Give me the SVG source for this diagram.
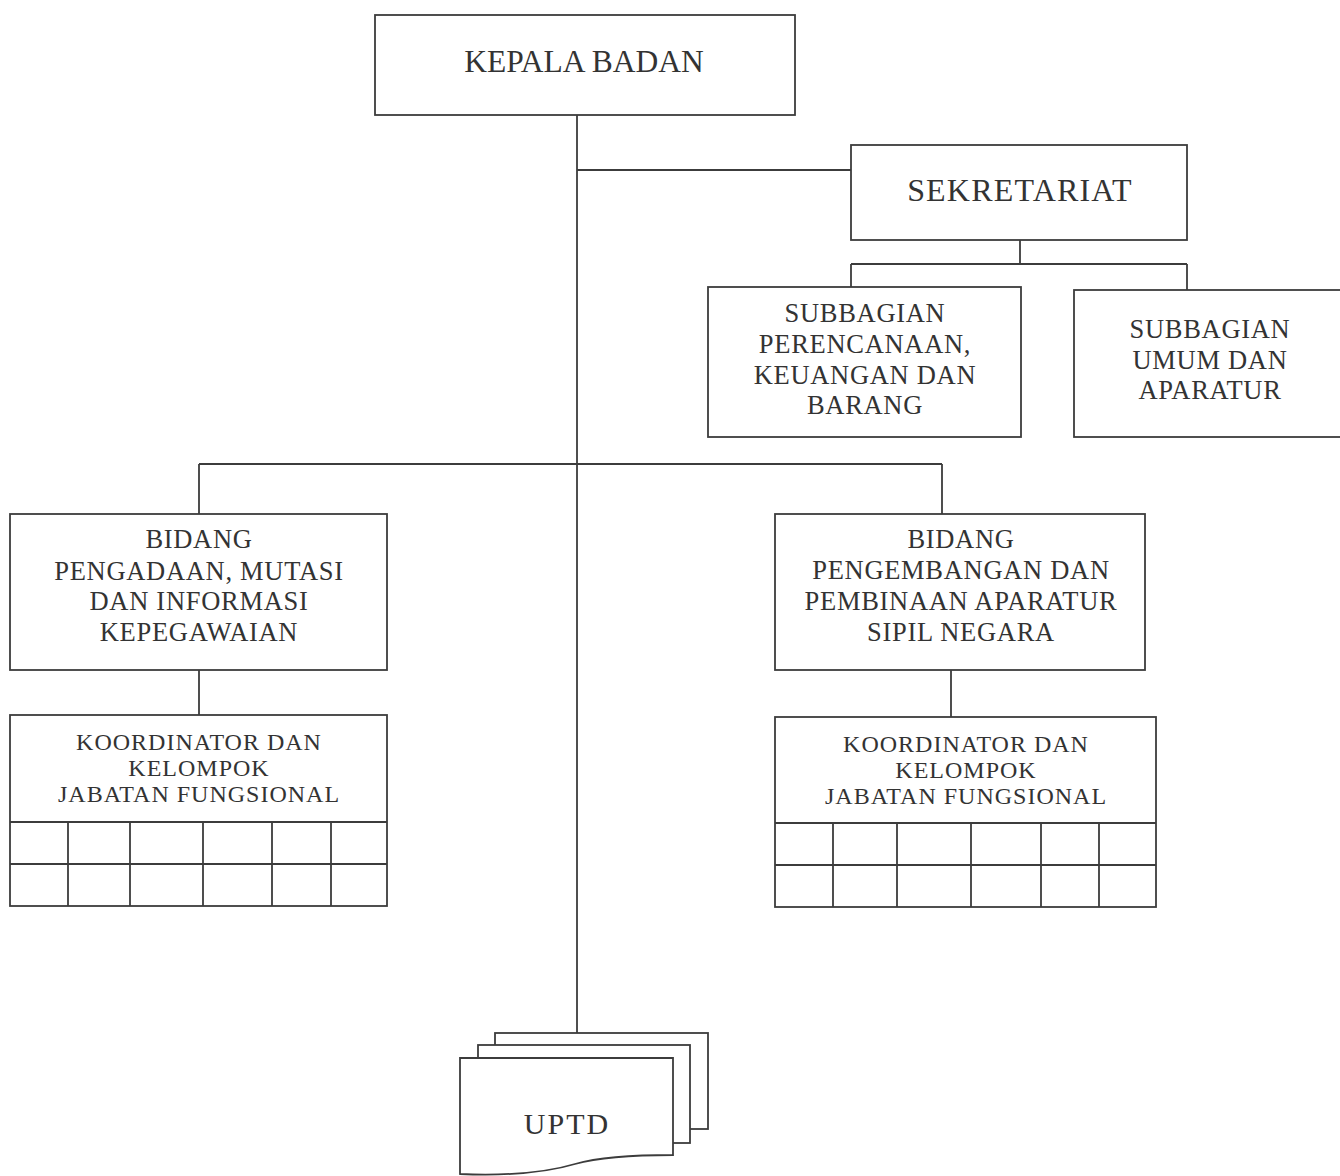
<svg xmlns="http://www.w3.org/2000/svg" width="1340" height="1176" viewBox="0 0 1340 1176">
<style>
.box{fill:#fff;stroke:#3c3c3c;stroke-width:1.8}
.ln{fill:none;stroke:#3c3c3c;stroke-width:1.8}
text{font-family:"Liberation Serif","Times New Roman",serif;fill:#333;text-anchor:middle}
.big{font-size:31.5px}
.sek{font-size:32px;letter-spacing:1.2px}
.md{font-size:26.5px;letter-spacing:0.7px}
.sm{font-size:24px;letter-spacing:1px}
.up{font-size:30px;letter-spacing:2px}
</style>
<rect width="1340" height="1176" fill="#fff"/>
<g id="connectors">
<path class="ln" d="M577,115 V1033"/>
<path class="ln" d="M577,170 H851"/>
<path class="ln" d="M1020,240 V264 M851,264 H1187 M851,264 V287 M1187,264 V290"/>
<path class="ln" d="M199,464 H942 M199,464 V514 M942,464 V514"/>
<path class="ln" d="M199,670 V715 M951,670 V717"/>
</g>
<g id="kepala-badan">
<rect class="box" x="375" y="15" width="420" height="100"/>
<text class="big" x="584" y="72">KEPALA BADAN</text>
</g>
<g id="sekretariat">
<rect class="box" x="851" y="145" width="336" height="95"/>
<text class="sek" x="1020" y="201">SEKRETARIAT</text>
</g>
<g id="subbagian-perencanaan">
<rect class="box" x="708" y="287" width="313" height="150"/>
<text class="md" x="865" y="322">SUBBAGIAN</text>
<text class="md" x="865" y="353">PERENCANAAN,</text>
<text class="md" x="865" y="384">KEUANGAN DAN</text>
<text class="md" x="865" y="414">BARANG</text>
</g>
<g id="subbagian-umum">
<rect class="box" x="1074" y="290" width="280" height="147"/>
<text class="md" x="1210" y="338">SUBBAGIAN</text>
<text class="md" x="1210" y="369">UMUM DAN</text>
<text class="md" x="1210" y="399">APARATUR</text>
</g>
<g id="bidang-pengadaan">
<rect class="box" x="10" y="514" width="377" height="156"/>
<text class="md" x="199" y="548">BIDANG</text>
<text class="md" x="199" y="580">PENGADAAN, MUTASI</text>
<text class="md" x="199" y="610">DAN INFORMASI</text>
<text class="md" x="199" y="641">KEPEGAWAIAN</text>
</g>
<g id="bidang-pengembangan">
<rect class="box" x="775" y="514" width="370" height="156"/>
<text class="md" x="961" y="548">BIDANG</text>
<text class="md" x="961" y="579">PENGEMBANGAN DAN</text>
<text class="md" x="961" y="610">PEMBINAAN APARATUR</text>
<text class="md" x="961" y="641">SIPIL NEGARA</text>
</g>
<g id="koordinator-kiri">
<rect class="box" x="10" y="715" width="377" height="191"/>
<path class="ln" d="M10,822 H387 M10,864 H387 M68,822 V906 M130,822 V906 M203,822 V906 M272,822 V906 M331,822 V906"/>
<text class="sm" x="199" y="750">KOORDINATOR DAN</text>
<text class="sm" x="199" y="776">KELOMPOK</text>
<text class="sm" x="199" y="802">JABATAN FUNGSIONAL</text>
</g>
<g id="koordinator-kanan">
<rect class="box" x="775" y="717" width="381" height="190"/>
<path class="ln" d="M775,823 H1156 M775,865 H1156 M833,823 V907 M897,823 V907 M971,823 V907 M1041,823 V907 M1099,823 V907"/>
<text class="sm" x="966" y="752">KOORDINATOR DAN</text>
<text class="sm" x="966" y="778">KELOMPOK</text>
<text class="sm" x="966" y="804">JABATAN FUNGSIONAL</text>
</g>
<g id="uptd">
<rect class="box" x="495" y="1033" width="213" height="96"/>
<rect class="box" x="478" y="1045" width="212" height="98"/>
<path class="box" d="M460,1058 H673 V1155 C630,1155 600,1157 575,1164 C545,1173 510,1176 460,1174 Z"/>
<text class="up" x="567" y="1134">UPTD</text>
</g>
</svg>
